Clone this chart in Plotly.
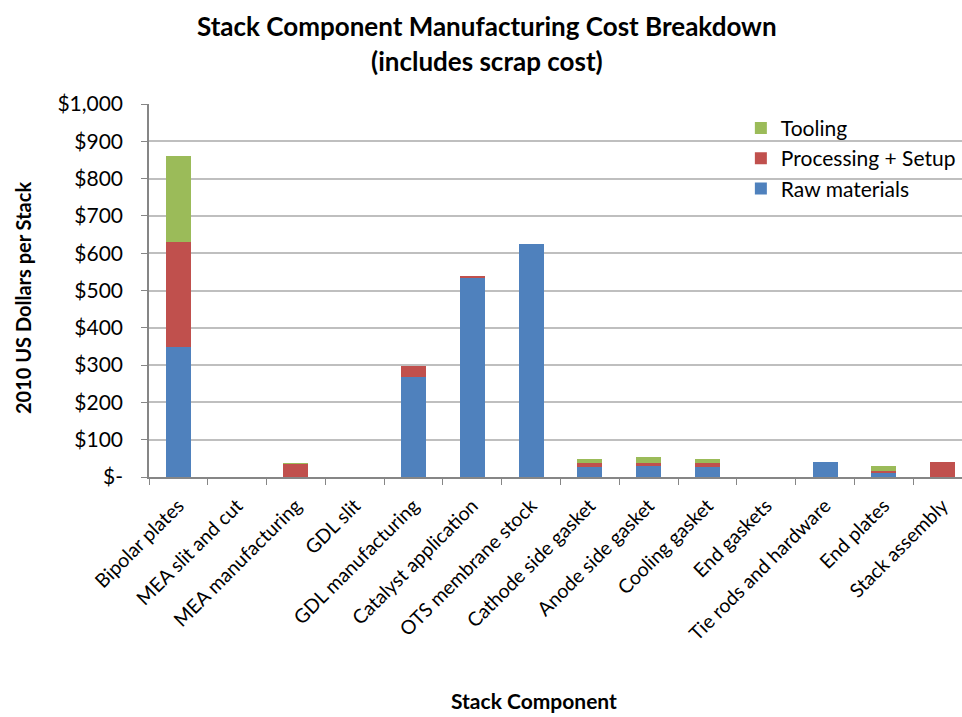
import plotly.graph_objects as go

categories = ["Bipolar plates", "MEA slit and cut", "MEA manufacturing", "GDL slit",
              "GDL manufacturing", "Catalyst application", "OTS membrane stock",
              "Cathode side gasket", "Anode side gasket", "Cooling gasket", "End gaskets",
              "Tie rods and hardware", "End plates", "Stack assembly"]
raw_materials = [348, 0, 0, 0, 268, 534, 625, 28, 29, 28, 0, 41, 13, 0]
processing_setup = [282, 0, 36, 0, 30, 5, 0, 9, 9, 9, 0, 0, 4, 41]
tooling = [230, 0, 1, 0, 0, 0, 0, 12, 16, 12, 0, 0, 12, 0]

tick_vals = [0, 100, 200, 300, 400, 500, 600, 700, 800, 900, 1000]
tick_text = ["$-", "$100", "$200", "$300", "$400", "$500", "$600", "$700", "$800", "$900", "$1,000"]

FONT = "Lato, 'Open Sans', sans-serif"

fig = go.Figure()
fig.add_trace(go.Bar(name="Raw materials", x=categories, y=raw_materials,
                     marker=dict(color="#4F81BD", line=dict(width=0))))
fig.add_trace(go.Bar(name="Processing + Setup", x=categories, y=processing_setup,
                     marker=dict(color="#C0504D", line=dict(width=0))))
fig.add_trace(go.Bar(name="Tooling", x=categories, y=tooling,
                     marker=dict(color="#9BBB59", line=dict(width=0))))

L, R, T, B = 149, 0, 104, 240
pw, ph = 962 - L - R, 717 - T - B
def px_to_paper(xp, yp):
    return (xp - L) / pw, (717 - B - yp) / ph

def ann(text, xp, yp, size, angle=0):
    x, y = px_to_paper(xp, yp)
    return dict(text=text, x=x, y=y, xref="paper", yref="paper", showarrow=False,
                xanchor="center", yanchor="middle", textangle=angle,
                font=dict(size=size, family=FONT, color="black"))

fig.update_layout(
    width=962, height=717,
    barmode="stack", bargap=0.575,
    paper_bgcolor="white", plot_bgcolor="white",
    margin=dict(l=L, r=R, t=T, b=B),
    font=dict(family=FONT, size=16, color="black"),
    showlegend=True,
    legend=dict(x=0.728, y=0.99, xanchor="left", yanchor="top", traceorder="reversed",
                font=dict(size=21), bgcolor="rgba(0,0,0,0)", itemwidth=30,
                tracegroupgap=0),
    xaxis=dict(range=[-0.5, 13.33], tickangle=-45, ticks="outside", tickson="boundaries",
               ticklen=6, tickcolor="#868686", showline=True, linecolor="#868686",
               linewidth=1.5, tickfont=dict(size=19.5), showgrid=False,
               ticklabelstandoff=8),
    yaxis=dict(range=[0, 1000], tickvals=tick_vals, ticktext=tick_text,
               ticks="outside", ticklen=6, tickcolor="#868686",
               showline=True, linecolor="#868686", linewidth=1.5,
               showgrid=True, gridcolor="#BFBFBF", gridwidth=1.5,
               tickfont=dict(size=21), zeroline=False, ticklabelstandoff=14),
    annotations=[
        ann("<b>Stack Component Manufacturing Cost Breakdown</b>", 487, 26, 26),
        ann("<b>(includes scrap cost)</b>", 487, 61, 26),
        ann("<b>Stack Component</b>", 534, 700, 21),
        ann("<b>2010 US Dollars per Stack</b>", 23, 298, 20, -90),
    ],
)

fig.write_html("out.html")
